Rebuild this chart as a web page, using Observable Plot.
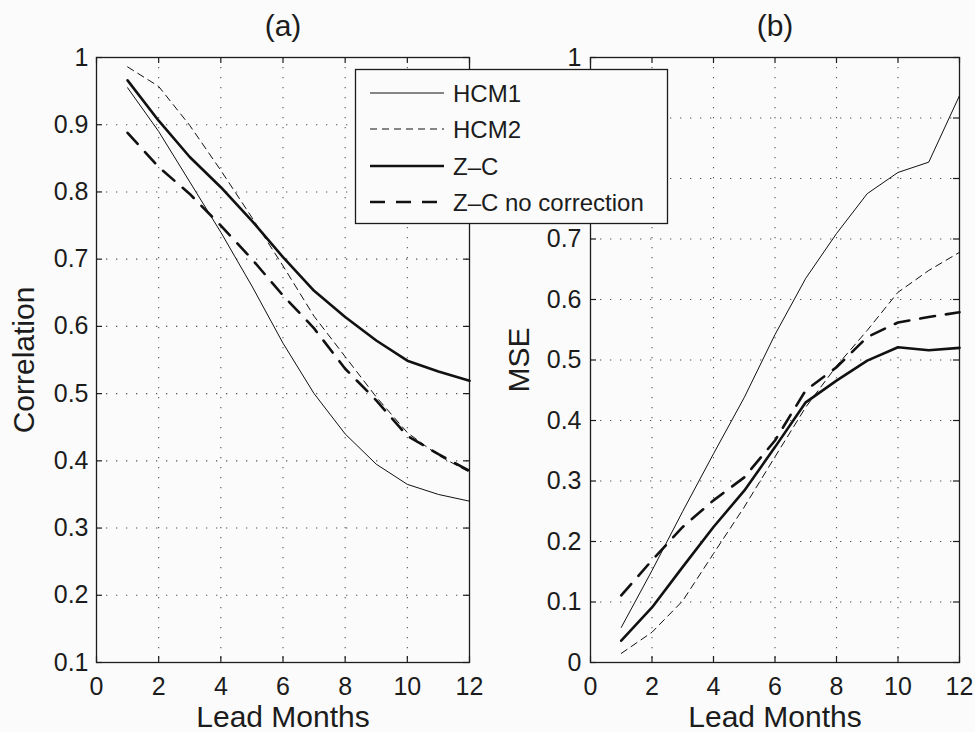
<!DOCTYPE html>
<html><head><meta charset="utf-8">
<script src="https://cdn.jsdelivr.net/npm/d3@7"></script>
<script src="https://cdn.jsdelivr.net/npm/@observablehq/plot@0.6"></script>
<style>
body{margin:0;background:#fbfbfb;}
#wrap{position:relative;width:975px;height:732px;font-family:"Liberation Sans",Arial,sans-serif;}
#wrap > *{position:absolute;top:0;}
</style></head><body><div id="wrap"></div>
<script>
const months = [1,2,3,4,5,6,7,8,9,10,11,12];
const seriesNames = ["HCM1","HCM2","Z\u2013C","Z\u2013C no correction"];

// Panel (a): Correlation
const corrHCM1 = [0.955,0.89,0.815,0.74,0.66,0.575,0.50,0.44,0.395,0.365,0.35,0.34];
const corrHCM2 = [0.986,0.957,0.899,0.832,0.762,0.69,0.615,0.555,0.495,0.442,0.408,0.383];
const corrZC   = [0.966,0.906,0.852,0.807,0.757,0.703,0.653,0.614,0.579,0.549,0.533,0.519];
const corrZCnc = [0.888,0.837,0.797,0.75,0.70,0.646,0.597,0.537,0.49,0.437,0.41,0.385];

// Panel (b): MSE
const mseHCM1 = [0.058,0.152,0.25,0.345,0.438,0.542,0.635,0.709,0.775,0.81,0.827,0.937];
const mseHCM2 = [0.015,0.05,0.102,0.18,0.257,0.34,0.422,0.49,0.549,0.612,0.648,0.678];
const mseZC   = [0.036,0.091,0.158,0.224,0.284,0.356,0.43,0.466,0.499,0.521,0.516,0.52];
const mseZCnc = [0.111,0.169,0.224,0.268,0.306,0.367,0.45,0.488,0.538,0.562,0.571,0.579];

const xTicks = [0,2,4,6,8,10,12];
const yTicksA = [0.1,0.2,0.3,0.4,0.5,0.6,0.7,0.8,0.9,1];
const yTicksB = [0,0.1,0.2,0.3,0.4,0.5,0.6,0.7,0.8,0.9,1];
// tick labels of panel (b) hidden behind the legend box in the original
const hiddenLabelsB = [0.8, 0.9];

const styles = {
  "HCM1": {strokeWidth: 1, strokeDasharray: null},
  "HCM2": {strokeWidth: 1, strokeDasharray: "7,5"},
  "Z\u2013C": {strokeWidth: 2.6, strokeDasharray: null},
  "Z\u2013C no correction": {strokeWidth: 2.6, strokeDasharray: "15,11"}
};

function tidy(arrays) {
  return seriesNames.map((s, i) => months.map((m, j) => ({month: m, value: arrays[i][j], series: s})));
}

const INK = "#1c1c1c";

function panel({width, marginLeft, marginRight, yDomain, yTicks, hidden, arrays, title, ylabel, labelDx, tickPadY}) {
  const marginTop = 57, marginBottom = 70, height = 732;
  const H = height - marginTop - marginBottom;
  const W = width - marginLeft - marginRight;
  const groups = tidy(arrays);
  const inner = t => t.filter(v => v > yDomain[0] + 1e-9 && v < yDomain[1] - 1e-9);
  const fmt = d => hidden.some(h => Math.abs(h - d) < 1e-9) ? "" : String(+d.toFixed(1));
  const txt = {textAnchor: "middle", lineAnchor: "middle", fill: INK};
  return Plot.plot({
    width, height, marginLeft, marginRight, marginTop, marginBottom,
    style: {background: "transparent", color: INK, fontFamily: '"Liberation Sans", Arial, sans-serif', overflow: "visible"},
    x: {domain: [0, 12]},
    y: {domain: yDomain},
    marks: [
      Plot.ruleX(xTicks.slice(1, -1), {stroke: "#555", strokeWidth: 1.1, strokeDasharray: "1.3,8.7"}),
      Plot.ruleY(inner(yTicks), {stroke: "#555", strokeWidth: 1.1, strokeDasharray: "1.3,8.7"}),
      Plot.ruleX(xTicks, {insetTop: H - 6, stroke: INK, strokeWidth: 1.2}),
      Plot.ruleX(xTicks, {insetBottom: H - 6, stroke: INK, strokeWidth: 1.2}),
      Plot.ruleY(yTicks, {insetRight: W - 6, stroke: INK, strokeWidth: 1.2}),
      Plot.ruleY(yTicks, {insetLeft: W - 6, stroke: INK, strokeWidth: 1.2}),
      Plot.frame({stroke: INK, strokeWidth: 1.3}),
      Plot.axisX(xTicks, {tickSize: 0, tickPadding: 15, fontSize: 25, label: null, tickFormat: d => String(d)}),
      Plot.axisY(yTicks, {tickSize: 0, tickPadding: tickPadY, fontSize: 25, label: null, tickFormat: fmt}),
      ...groups.map(g => Plot.line(g, {
        x: "month", y: "value", stroke: "#111",
        strokeWidth: styles[g[0].series].strokeWidth,
        strokeDasharray: styles[g[0].series].strokeDasharray,
        strokeLinejoin: "miter"
      })),
      Plot.text([title], {...txt, text: d => d, frameAnchor: "top", dy: -31, fontSize: 30}),
      Plot.text([ylabel], {...txt, text: d => d, frameAnchor: "left", dx: labelDx, rotate: -90, fontSize: 30}),
      Plot.text(["Lead Months"], {...txt, text: d => d, frameAnchor: "bottom", dy: 55, fontSize: 30})
    ]
  });
}

const wrap = document.getElementById("wrap");

const pa = panel({width: 490, marginLeft: 96, marginRight: 21, yDomain: [0.1, 1], yTicks: yTicksA, hidden: [],
  arrays: [corrHCM1, corrHCM2, corrZC, corrZCnc], title: "(a)", ylabel: "Correlation", labelDx: -72, tickPadY: 8});
pa.style.left = "0px";
wrap.appendChild(pa);

const pb = panel({width: 485, marginLeft: 100, marginRight: 16, yDomain: [0, 1], yTicks: yTicksB, hidden: hiddenLabelsB,
  arrays: [mseHCM1, mseHCM2, mseZC, mseZCnc], title: "(b)", ylabel: "MSE", labelDx: -71, tickPadY: 9});
pb.style.left = "490px";
wrap.appendChild(pb);

// Legend overlay
const leg = d3.create("svg").attr("width", 975).attr("height", 732)
  .style("left", "0px").style("pointer-events", "none");
leg.append("rect").attr("x", 355.5).attr("y", 69.5).attr("width", 312).attr("height", 154)
  .attr("fill", "#fbfbfb").attr("stroke", INK).attr("stroke-width", 1.3);
const rowY = [93, 129, 166, 202];
seriesNames.forEach((s, i) => {
  leg.append("line").attr("x1", 370).attr("x2", 444).attr("y1", rowY[i]).attr("y2", rowY[i])
    .attr("stroke", "#111").attr("stroke-width", styles[s].strokeWidth)
    .attr("stroke-dasharray", styles[s].strokeDasharray);
  leg.append("text").attr("x", 453).attr("y", rowY[i]).attr("dy", "0.36em")
    .attr("font-size", 24).attr("fill", INK)
    .attr("font-family", '"Liberation Sans", Arial, sans-serif').text(s);
});
wrap.appendChild(leg.node());
</script></body></html>
